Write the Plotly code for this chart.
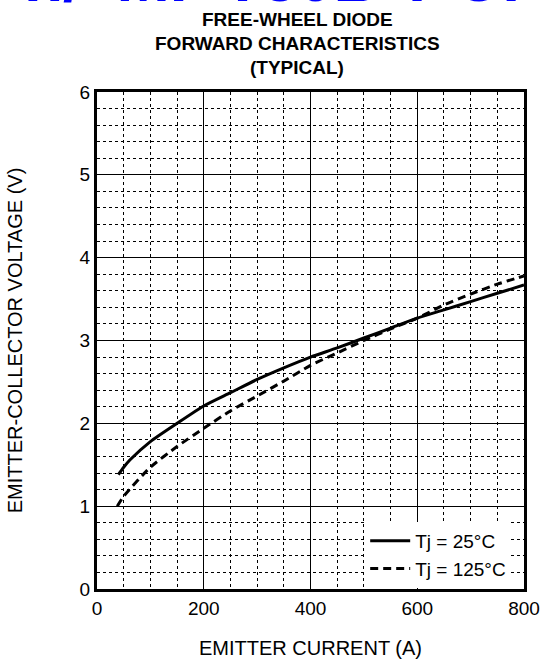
import plotly.graph_objects as go

# Data
current_25 = [40, 50, 62, 100, 150, 200, 250, 300, 350, 400, 450, 500, 550, 600, 650, 700, 750, 800]
voltage_25 = [1.38, 1.47, 1.56, 1.78, 2.00, 2.21, 2.37, 2.53, 2.67, 2.80, 2.91, 3.03, 3.15, 3.27, 3.37, 3.47, 3.57, 3.67]

current_125 = [38, 50, 100, 150, 200, 250, 300, 350, 400, 450, 500, 550, 600, 650, 700, 750, 800]
voltage_125 = [1.00, 1.12, 1.47, 1.72, 1.94, 2.15, 2.33, 2.51, 2.70, 2.85, 3.00, 3.14, 3.27, 3.43, 3.56, 3.68, 3.78]

x_ticks = [0, 200, 400, 600, 800]
y_ticks = [0, 1, 2, 3, 4, 5, 6]

title_lines = ["FREE-WHEEL DIODE", "FORWARD CHARACTERISTICS", "(TYPICAL)"]
legend_names = ["Tj = 25°C", "Tj = 125°C"]

FONT = "Liberation Sans, Arial, sans-serif"

fig = go.Figure()
fig.add_trace(go.Scatter(x=current_25, y=voltage_25, mode="lines", name=legend_names[0],
                         line=dict(color="black", width=3, shape="spline", smoothing=0.6)))
fig.add_trace(go.Scatter(x=current_125, y=voltage_125, mode="lines", name=legend_names[1],
                         line=dict(color="black", width=3, dash="8px,5px", shape="spline", smoothing=0.6)))

fig.update_layout(
    width=546, height=663,
    margin=dict(l=97, r=22, t=92, b=74, autoexpand=False),
    paper_bgcolor="white", plot_bgcolor="white",
    font=dict(family=FONT, color="black", size=19),
    showlegend=True,
    legend=dict(x=0.97, y=0.002, xanchor="right", yanchor="bottom",
                bgcolor="white", borderwidth=0,
                font=dict(size=19, family=FONT), tracegroupgap=0,
                itemwidth=40),
)

fig.update_xaxes(
    range=[0, 800], tickvals=x_ticks, ticktext=[str(v) for v in x_ticks],
    showgrid=True, gridcolor="black", gridwidth=1,
    minor=dict(dtick=50, showgrid=True, gridcolor="black", gridwidth=1, griddash="dot"),
    showline=True, linecolor="black", linewidth=3, mirror=True,
    ticks="", ticklabelstandoff=0, zeroline=False, automargin=False,
    tickfont=dict(size=19),
    title=dict(text="EMITTER CURRENT (A)", font=dict(size=20), standoff=24),
)
fig.update_yaxes(
    range=[0, 6], tickvals=y_ticks, ticktext=[str(v) for v in y_ticks],
    showgrid=True, gridcolor="black", gridwidth=1,
    minor=dict(dtick=0.2, showgrid=True, gridcolor="black", gridwidth=1, griddash="dot"),
    showline=True, linecolor="black", linewidth=3, mirror=True,
    ticks="", ticklabelstandoff=0, zeroline=False, automargin=False,
    tickfont=dict(size=19),
    title=dict(text="EMITTER-COLLECTOR VOLTAGE (V)", font=dict(size=20), standoff=52),
)

# Title lines
for i, line in enumerate(title_lines):
    fig.add_annotation(text="<b>" + line + "</b>", xref="paper", yref="paper",
                       x=(297 - 97) / 427, y=1 + (92 - 20 - 23.5 * i) / 497,
                       xanchor="center", yanchor="middle", showarrow=False,
                       font=dict(size=19, family=FONT, color="black"))

# Cut-off blue banner text at the very top
fig.add_annotation(text="<b>n/  MI  T50B T C:</b>", xref="paper", yref="paper",
                   x=(273 - 97) / 427, y=1 + (92 - 17) / 497,
                   xanchor="center", yanchor="bottom", showarrow=False,
                   font=dict(size=64, family=FONT, color="#0000ff"))

fig.write_html("out.html", config={"displayModeBar": False},
               post_script="document.body.style.margin='0';")
